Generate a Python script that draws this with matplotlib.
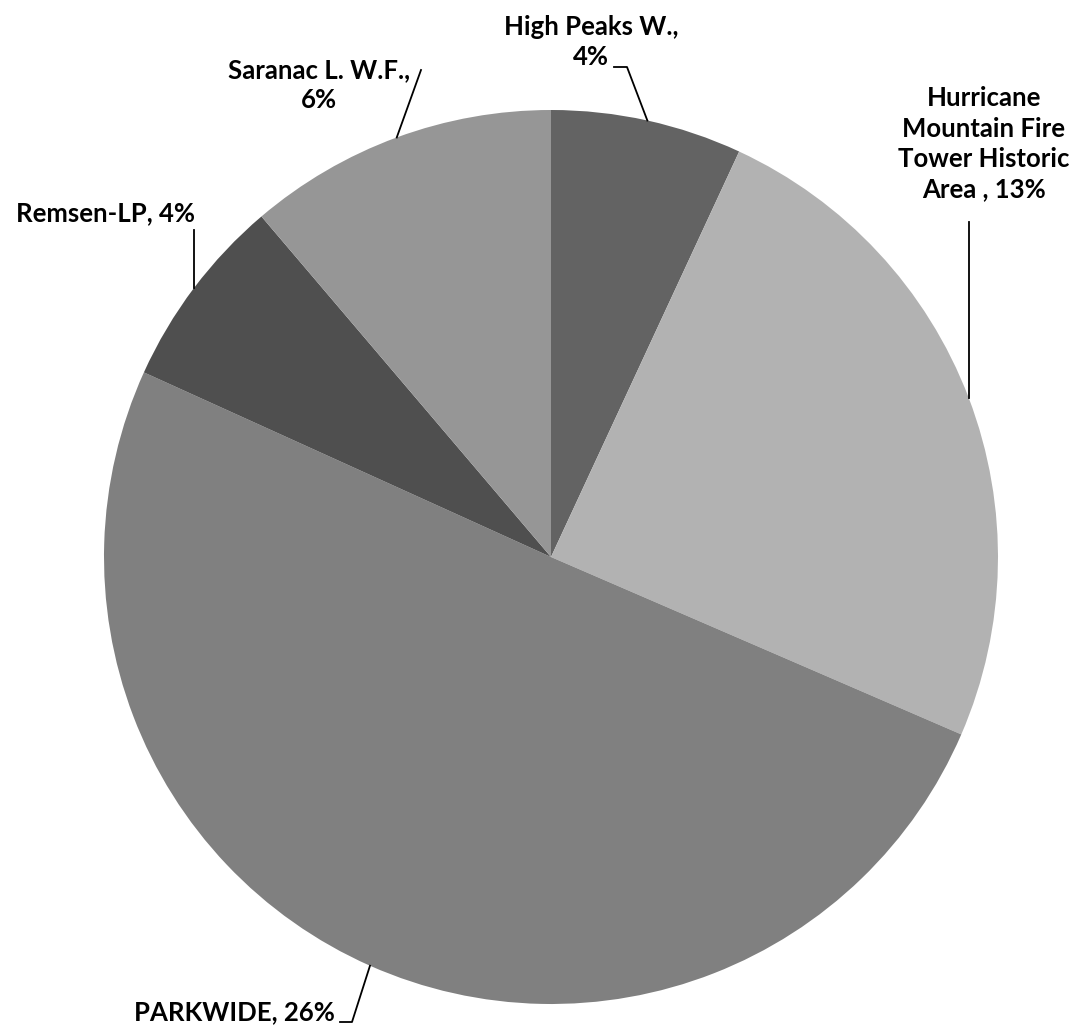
import numpy as np
import matplotlib.pyplot as plt

# slice shares and the printed labels
names = ['High Peaks W.', 'Hurricane\nMountain Fire\nTower Historic\nArea ', 'PARKWIDE',
         'Remsen-LP', 'Saranac L. W.F.']
shares = [3.7, 13.15, 26.9, 3.75, 6.0]
pct_labels = ['4%', '13%', '26%', '4%', '6%']
colors = ['#636363', '#b2b2b2', '#808080', '#4f4f4f', '#969696']

W, H = 1079, 1031
CX, CY, R = 551, 557, 447

fig = plt.figure(figsize=(W / 100, H / 100), dpi=100)
ax = fig.add_axes([(CX - R) / W, (H - CY - R) / H, 2 * R / W, 2 * R / H])

wedges, _ = ax.pie(shares, colors=colors, startangle=90, counterclock=False,
                   radius=1, wedgeprops=dict(linewidth=0))
ax.set_xlim(-1, 1)
ax.set_ylim(-1, 1)
ax.set_aspect('equal')
ax.axis('off')


def px(x, y):
    return (x - CX) / R, (CY - y) / R


# label text positions (pixel centres) and leader elbows
text_pos = [(591, 42), (984, 144), (234, 1012), (105, 213), (319, 85)]
elbows = [[(627, 67), (614, 67)],
          [(968, 222)],
          [(352, 1022), (340, 1022)],
          [(196, 230)],
          [(421, 70)]]
label_text = [
    names[0] + ',\n' + pct_labels[0],
    names[1] + ', ' + pct_labels[1],
    names[2] + ', ' + pct_labels[2],
    names[3] + ', ' + pct_labels[3],
    names[4] + ',\n' + pct_labels[4],
]

for i, w in enumerate(wedges):
    mid = np.deg2rad((w.theta1 + w.theta2) / 2)
    ax_pt = (np.cos(mid), np.sin(mid))
    pts = [ax_pt] + [px(*e) for e in elbows[i]]
    if i in (1, 3):
        # vertical leaders
        pts = [ax_pt, (ax_pt[0], px(*elbows[i][0])[1])]
    xs, ys = zip(*pts)
    ax.plot(xs, ys, color='black', lw=1.3, clip_on=False)
    tx, ty = px(*text_pos[i])
    ax.text(tx, ty, label_text[i], ha='center', va='center', fontsize=18.5,
            fontweight='bold', family='Lato', linespacing=1.32, color='black')

fig.savefig('out.png', dpi=100)
